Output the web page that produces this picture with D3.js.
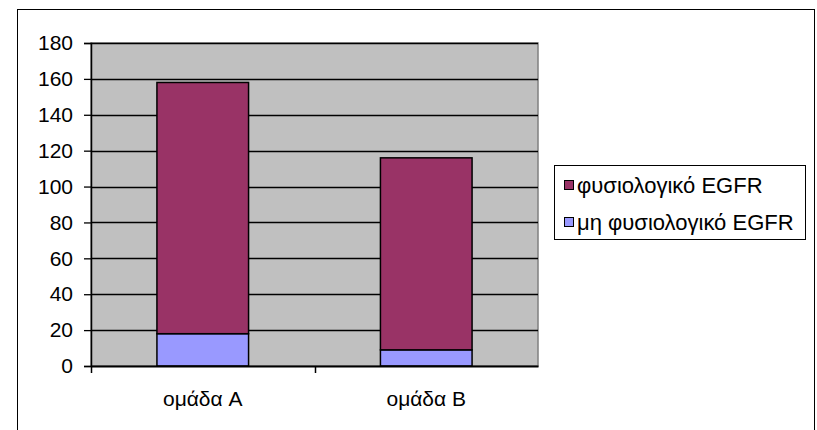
<!DOCTYPE html>
<html>
<head>
<meta charset="utf-8">
<script src="https://cdn.jsdelivr.net/npm/d3@7"></script>
<style>
  body { margin: 0; background: #fff; }
  text { font-family: "Liberation Sans", Arial, sans-serif; }
</style>
</head>
<body>
<svg id="chart" width="817" height="430"></svg>
<script>
var categories = ["ομάδα A", "ομάδα B"]
var abnormal = [18, 9]        // μη φυσιολογικό EGFR
var normal = [140, 107]       // φυσιολογικό EGFR
var seriesNames = ["φυσιολογικό EGFR", "μη φυσιολογικό EGFR"]
var yTicks = [0, 20, 40, 60, 80, 100, 120, 140, 160, 180]

var colors = {"abnormal": "#9999ff", "normal": "#993366"}
var fontSize = 21

var svg = d3.select("#chart")

// outer frame
svg.append("rect")
  .attr("x", 17.5).attr("y", 9.5)
  .attr("width", 797).attr("height", 430)
  .attr("fill", "#fff").attr("stroke", "#000")

var plot = {left: 91, top: 43, right: 538, bottom: 366}

var x = d3.scaleBand()
  .domain(categories)
  .range([plot.left, plot.right])
  .paddingInner(0.59)
  .paddingOuter(0.295)

var y = d3.scaleLinear()
  .domain([0, 180])
  .range([plot.bottom, plot.top])

// plot background
svg.append("rect")
  .attr("x", plot.left).attr("y", plot.top)
  .attr("width", plot.right - plot.left).attr("height", plot.bottom - plot.top)
  .attr("fill", "#c0c0c0").attr("stroke", "#808080").attr("stroke-width", 1.5)

// gridlines
svg.selectAll("line.grid")
  .data(yTicks.filter(function(d){ return d > 0 }))
  .enter().append("line")
  .attr("class", "grid")
  .attr("x1", plot.left).attr("x2", plot.right)
  .attr("y1", function(d){ return Math.round(y(d)) + 0.5 })
  .attr("y2", function(d){ return Math.round(y(d)) + 0.5 })
  .attr("stroke", "#000").attr("stroke-width", 1.3)

var data = categories.map(function(c, i){
  return {cat: c, abnormal: abnormal[i], normal: normal[i]}
})

var stack = d3.stack().keys(["abnormal", "normal"])(data)

svg.selectAll("g.series")
  .data(stack)
  .enter().append("g")
  .attr("class", "series")
  .attr("fill", function(d){ return colors[d.key] })
  .selectAll("rect")
  .data(function(d){ return d })
  .enter().append("rect")
  .attr("x", function(d){ return x(d.data.cat) })
  .attr("y", function(d){ return y(d[1]) })
  .attr("width", x.bandwidth())
  .attr("height", function(d){ return y(d[0]) - y(d[1]) })
  .attr("stroke", "#000").attr("stroke-width", 1.5)

// y axis
var yAxis = d3.axisLeft(y).tickValues(yTicks).tickSize(7).tickPadding(11)
var ya = svg.append("g")
  .attr("transform", "translate(" + plot.left + ",0)")
  .call(yAxis)
ya.attr("font-size", fontSize).attr("font-family", "Liberation Sans, Arial, sans-serif")
ya.select(".domain").attr("stroke", "#000").attr("stroke-width", 1.5)
ya.selectAll(".tick line").attr("stroke", "#000").attr("stroke-width", 1.3)
ya.selectAll(".tick text").attr("fill", "#000")

// x axis
var xAxis = d3.axisBottom(x).tickSize(0).tickPadding(25)
var xa = svg.append("g")
  .attr("transform", "translate(0," + plot.bottom + ")")
  .call(xAxis)
xa.attr("font-size", fontSize).attr("font-family", "Liberation Sans, Arial, sans-serif")
xa.select(".domain").attr("stroke", "#000").attr("stroke-width", 2)
xa.selectAll(".tick text").attr("fill", "#000")

// category separator ticks
var bounds = [plot.left, (plot.left + plot.right) / 2]
svg.selectAll("line.xtick")
  .data(bounds)
  .enter().append("line")
  .attr("x1", function(d){ return Math.round(d) + 0.5 })
  .attr("x2", function(d){ return Math.round(d) + 0.5 })
  .attr("y1", plot.bottom).attr("y2", plot.bottom + 7)
  .attr("stroke", "#000").attr("stroke-width", 1.5)

// legend
var lg = svg.append("g").attr("transform", "translate(554,165)")
lg.append("rect")
  .attr("x", 0.5).attr("y", 0.5).attr("width", 251).attr("height", 74)
  .attr("fill", "#fff").attr("stroke", "#000")

var legendKeys = ["normal", "abnormal"]
var item = lg.selectAll("g.legend-item")
  .data(seriesNames)
  .enter().append("g")
  .attr("class", "legend-item")
  .attr("transform", function(d, i){ return "translate(0," + (20 + i * 37) + ")" })

item.append("rect")
  .attr("x", 10.5).attr("y", -4.5).attr("width", 9).attr("height", 9)
  .attr("fill", function(d, i){ return colors[legendKeys[i]] })
  .attr("stroke", "#000")

item.append("text")
  .attr("x", 23).attr("y", 7.5)
  .attr("font-size", 22)
  .text(function(d){ return d })
</script>
</body>
</html>
